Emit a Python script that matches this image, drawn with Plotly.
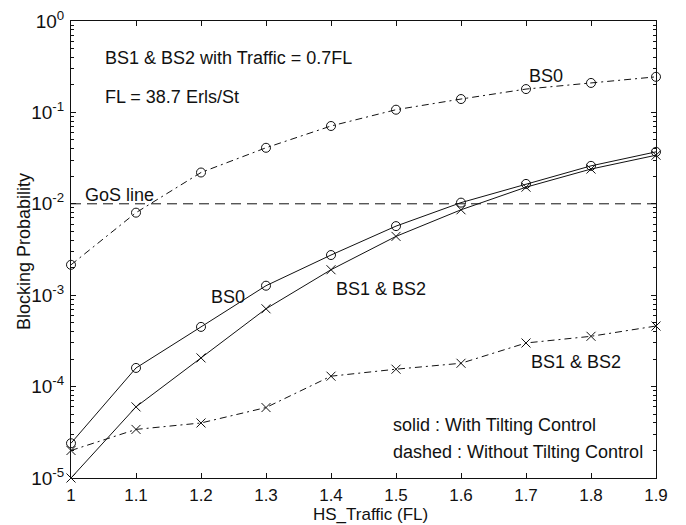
import numpy as np
import plotly.graph_objects as go

# HS traffic load (in units of FL)
hs_traffic = [1.0, 1.1, 1.2, 1.3, 1.4, 1.5, 1.6, 1.7, 1.8, 1.9]

# Blocking probability, with tilting control (solid)
bs0_tilt = [2.4e-5, 1.6e-4, 4.5e-4, 1.27e-3, 2.75e-3, 5.7e-3, 1.03e-2, 1.65e-2, 2.6e-2, 3.7e-2]
bs12_tilt = [1.0e-5, 6.0e-5, 2.06e-4, 7.1e-4, 1.9e-3, 4.4e-3, 8.6e-3, 1.52e-2, 2.4e-2, 3.4e-2]

# Blocking probability, without tilting control (dash-dot)
bs0_notilt = [2.15e-3, 8.0e-3, 2.2e-2, 4.1e-2, 7.1e-2, 1.07e-1, 1.4e-1, 1.8e-1, 2.1e-1, 2.45e-1]
bs12_notilt = [2.0e-5, 3.4e-5, 4.0e-5, 5.9e-5, 1.3e-4, 1.55e-4, 1.8e-4, 3.0e-4, 3.55e-4, 4.6e-4]

# Grade-of-service target
gos_level = 1e-2

x_ticks = [1.0, 1.1, 1.2, 1.3, 1.4, 1.5, 1.6, 1.7, 1.8, 1.9]
x_ticktext = ["1", "1.1", "1.2", "1.3", "1.4", "1.5", "1.6", "1.7", "1.8", "1.9"]
y_exponents = [-5, -4, -3, -2, -1, 0]

FONT = "Liberation Sans, Arial, Helvetica, sans-serif"
BLACK = "#111111"

fig = go.Figure()

def add_series(y, symbol, dash):
    fig.add_trace(go.Scatter(
        x=hs_traffic, y=y, mode="lines+markers",
        line=dict(color=BLACK, width=1, dash=dash),
        marker=dict(symbol=symbol, size=9, color=BLACK,
                    line=dict(color=BLACK, width=1)),
        showlegend=False, cliponaxis=False,
    ))

add_series(bs0_notilt, "circle-open", "7px,4px,2px,4px")
add_series(bs12_notilt, "x-thin-open", "7px,4px,2px,4px")
add_series(bs0_tilt, "circle-open", "solid")
add_series(bs12_tilt, "x-thin-open", "solid")

# GoS reference line
fig.add_trace(go.Scatter(
    x=[hs_traffic[0], hs_traffic[-1]], y=[gos_level, gos_level], mode="lines",
    line=dict(color=BLACK, width=1, dash="10px,6px"), showlegend=False,
))

# plot-area geometry in pixels, used to place text labels
L, R, T, B = 71, 656, 21, 478

def px(x, y):
    return (x - L) / (R - L), (B - y) / (B - T)

labels = [
    ("BS1 & BS2 with Traffic = 0.7FL", 103, 58),
    ("FL = 38.7 Erls/St", 103, 97),
    ("GoS line", 83, 195),
    ("BS0", 527, 76),
    ("BS0", 209, 297),
    ("BS1 & BS2", 334, 289),
    ("BS1 & BS2", 529, 362),
    ("solid : With Tilting Control", 391, 425),
    ("dashed : Without Tilting Control", 391, 452),
]
for text, lx, ly in labels:
    xp, yp = px(lx, ly)
    fig.add_annotation(text=text, x=xp, y=yp, xref="paper", yref="paper",
                       xanchor="left", yanchor="middle", showarrow=False,
                       font=dict(family=FONT, size=18, color=BLACK))

# axis titles
xp, yp = px(370, 514)
fig.add_annotation(text="HS_Traffic (FL)", x=xp, y=yp, xref="paper", yref="paper",
                   xanchor="center", yanchor="middle", showarrow=False,
                   font=dict(family=FONT, size=17, color=BLACK))
xp, yp = px(24, 252)
fig.add_annotation(text="Blocking Probability", x=xp, y=yp, xref="paper", yref="paper",
                   xanchor="center", yanchor="middle", showarrow=False, textangle=-90,
                   font=dict(family=FONT, size=18, color=BLACK))

minor_vals = [m * 10.0 ** e for e in range(-5, 0) for m in range(2, 10)]

fig.update_layout(
    width=686, height=525,
    margin=dict(l=L, r=686 - R, t=T, b=525 - B),
    paper_bgcolor="white", plot_bgcolor="white",
    font=dict(family=FONT, size=17, color=BLACK),
)
fig.update_xaxes(
    range=[1.0, 1.9], tickvals=x_ticks, ticktext=x_ticktext,
    ticks="inside", ticklen=5, tickcolor=BLACK, tickwidth=1,
    showline=True, linecolor=BLACK, linewidth=1, mirror="ticks",
    showgrid=False, zeroline=False, ticklabelstandoff=2, automargin=False,
    tickfont=dict(size=17),
)
fig.update_yaxes(
    type="log", range=[-5, 0],
    tickvals=[10.0 ** e for e in y_exponents],
    ticktext=[f"10<sup>{e}</sup>" for e in y_exponents],
    ticks="inside", ticklen=5, tickcolor=BLACK, tickwidth=1,
    minor=dict(tickvals=minor_vals, ticks="inside", ticklen=3,
               tickcolor=BLACK, tickwidth=1, showgrid=False),
    showline=True, linecolor=BLACK, linewidth=1, mirror="ticks",
    showgrid=False, zeroline=False, ticklabelstandoff=2, automargin=False,
    tickfont=dict(size=19),
)

fig.write_html("out.html")
